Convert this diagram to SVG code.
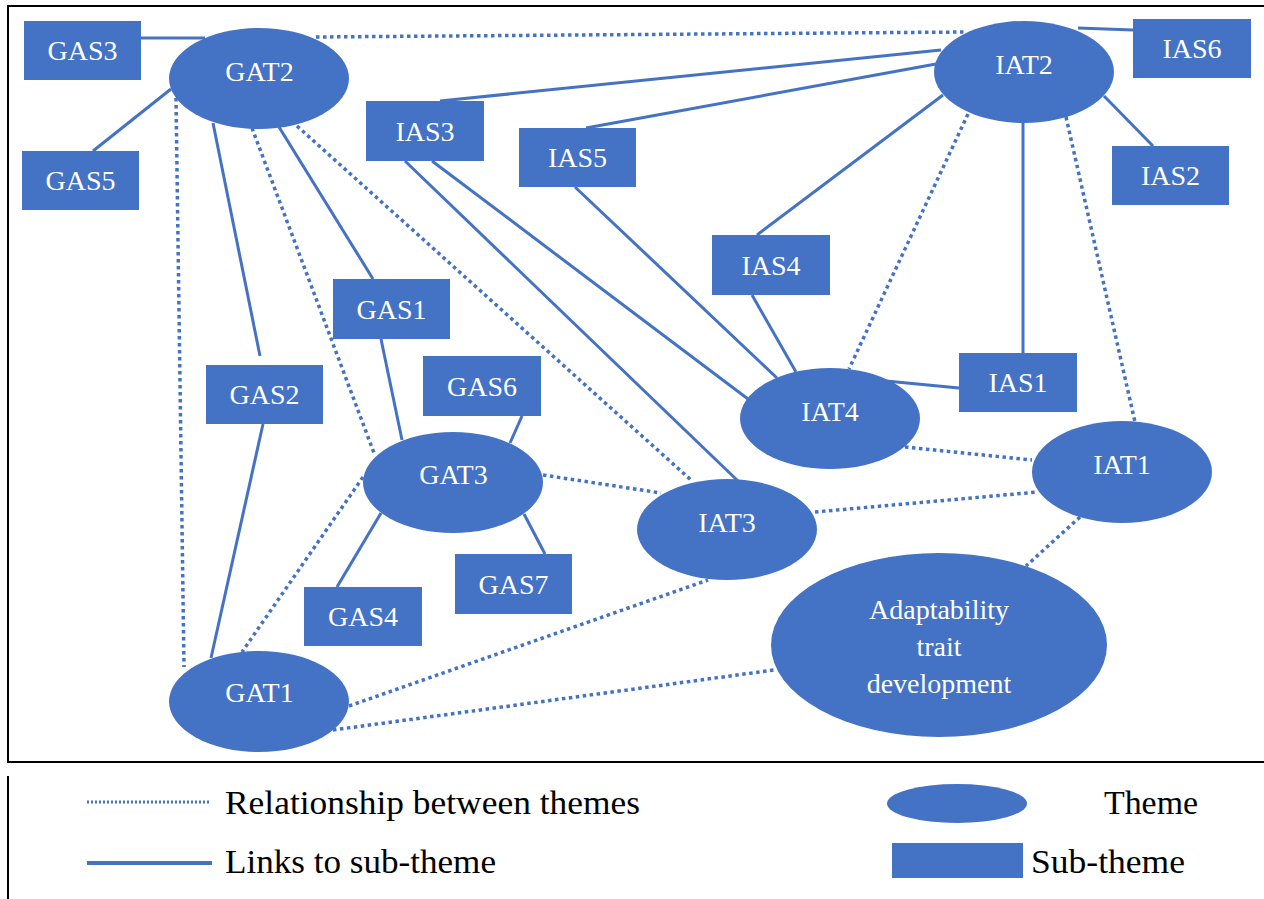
<svg xmlns="http://www.w3.org/2000/svg" width="1264" height="899" viewBox="0 0 1264 899">
<style>
.n{fill:#4472C4}
.t{fill:#fff;font-size:28px;text-anchor:middle;font-family:"Liberation Serif","Times New Roman",serif}
.s{stroke:#4472C4;stroke-width:3;fill:none}
.d{stroke:#4472C4;stroke-width:3.5;fill:none;stroke-dasharray:3.5 3.5}
.lg{fill:#000;font-size:34px;font-family:"Liberation Serif","Times New Roman",serif}
</style>
<rect x="0" y="0" width="1264" height="899" fill="#fff"/>
<rect x="8" y="6" width="1260" height="756" fill="none" stroke="#000" stroke-width="2"/>
<g id="connectors">
<line class="s" x1="141" y1="38" x2="205" y2="38"/>
<line class="s" x1="171" y1="89" x2="93" y2="151"/>
<line class="s" x1="213" y1="123" x2="260" y2="356"/>
<line class="s" x1="263" y1="424" x2="211" y2="658"/>
<line class="s" x1="279" y1="127" x2="373" y2="279"/>
<line class="s" x1="381" y1="339" x2="402" y2="440"/>
<line class="s" x1="522" y1="416" x2="510" y2="443"/>
<line class="s" x1="381" y1="513" x2="337" y2="587"/>
<line class="s" x1="524" y1="514" x2="545" y2="554"/>
<line class="s" x1="440" y1="101" x2="941" y2="50"/>
<line class="s" x1="586" y1="128" x2="936" y2="64"/>
<line class="s" x1="405" y1="161" x2="738" y2="481"/>
<line class="s" x1="432" y1="161" x2="748" y2="399"/>
<line class="s" x1="575" y1="187" x2="777" y2="378"/>
<line class="s" x1="752" y1="295" x2="796" y2="372"/>
<line class="s" x1="943" y1="95" x2="757" y2="235"/>
<line class="s" x1="886" y1="381" x2="959" y2="388"/>
<line class="s" x1="1023" y1="123" x2="1023" y2="353"/>
<line class="s" x1="1078" y1="28" x2="1133" y2="30"/>
<line class="s" x1="1104" y1="96" x2="1153" y2="146"/>
<line class="d" x1="316" y1="37" x2="966" y2="32"/>
<line class="d" x1="176" y1="98" x2="184" y2="667"/>
<line class="d" x1="252" y1="128" x2="374" y2="453"/>
<line class="d" x1="297" y1="126" x2="691" y2="480"/>
<line class="d" x1="363" y1="477" x2="242" y2="652"/>
<line class="d" x1="543" y1="475" x2="661" y2="493"/>
<line class="d" x1="349" y1="706" x2="708" y2="580"/>
<line class="d" x1="333" y1="730" x2="774" y2="670"/>
<line class="d" x1="968" y1="114" x2="849" y2="369"/>
<line class="d" x1="1066" y1="117" x2="1135" y2="422"/>
<line class="d" x1="905" y1="447" x2="1032" y2="460"/>
<line class="d" x1="815" y1="512" x2="1038" y2="492"/>
<line class="d" x1="1080" y1="517" x2="1026" y2="566"/>
</g>
<g id="GAS3"><rect class="n" x="24" y="21" width="117" height="59"/><text class="t" x="82.5" y="60">GAS3</text></g>
<g id="GAS5"><rect class="n" x="22" y="151" width="117" height="59"/><text class="t" x="80.5" y="190">GAS5</text></g>
<g id="IAS3"><rect class="n" x="366" y="101" width="118" height="60"/><text class="t" x="425" y="140.5">IAS3</text></g>
<g id="IAS5"><rect class="n" x="519" y="128" width="117" height="59"/><text class="t" x="577.5" y="167">IAS5</text></g>
<g id="GAS1"><rect class="n" x="333" y="279" width="117" height="60"/><text class="t" x="391.5" y="318.5">GAS1</text></g>
<g id="GAS6"><rect class="n" x="423" y="356" width="118" height="60"/><text class="t" x="482" y="395.5">GAS6</text></g>
<g id="GAS2"><rect class="n" x="206" y="365" width="117" height="59"/><text class="t" x="264.5" y="404">GAS2</text></g>
<g id="GAS7"><rect class="n" x="455" y="554" width="117" height="60"/><text class="t" x="513.5" y="593.5">GAS7</text></g>
<g id="GAS4"><rect class="n" x="304" y="587" width="118" height="59"/><text class="t" x="363" y="626">GAS4</text></g>
<g id="IAS6"><rect class="n" x="1133" y="19" width="118" height="59"/><text class="t" x="1192" y="58">IAS6</text></g>
<g id="IAS2"><rect class="n" x="1112" y="146" width="117" height="59"/><text class="t" x="1170.5" y="185">IAS2</text></g>
<g id="IAS4"><rect class="n" x="712" y="235" width="118" height="60"/><text class="t" x="771" y="274.5">IAS4</text></g>
<g id="IAS1"><rect class="n" x="959" y="353" width="118" height="59"/><text class="t" x="1018" y="392">IAS1</text></g>
<g id="GAT2"><ellipse class="n" cx="259" cy="78.5" rx="90" ry="50.5"/><text class="t" x="259.5" y="81">GAT2</text></g>
<g id="GAT3"><ellipse class="n" cx="453" cy="482.5" rx="90" ry="50.5"/><text class="t" x="453.5" y="483.5">GAT3</text></g>
<g id="GAT1"><ellipse class="n" cx="259" cy="701.5" rx="90" ry="50.5"/><text class="t" x="259.5" y="702">GAT1</text></g>
<g id="IAT2"><ellipse class="n" cx="1024" cy="72" rx="90" ry="51"/><text class="t" x="1024" y="74">IAT2</text></g>
<g id="IAT4"><ellipse class="n" cx="830" cy="418.5" rx="90" ry="50.5"/><text class="t" x="830" y="421">IAT4</text></g>
<g id="IAT3"><ellipse class="n" cx="727" cy="529.5" rx="90" ry="50.5"/><text class="t" x="727" y="532">IAT3</text></g>
<g id="IAT1"><ellipse class="n" cx="1122" cy="472" rx="90" ry="51"/><text class="t" x="1122" y="474">IAT1</text></g>
<g id="Adaptability"><ellipse class="n" cx="939" cy="645" rx="168" ry="92"/><text class="t" x="939" y="619">Adaptability</text><text class="t" x="939" y="656">trait</text><text class="t" x="939" y="693">development</text></g>
<g id="legend">
<line x1="8" y1="776" x2="8" y2="899" stroke="#000" stroke-width="2"/>
<line x1="87" y1="802" x2="211" y2="802" stroke="#4472C4" stroke-width="3" stroke-dasharray="2 2"/>
<line x1="87" y1="863" x2="212" y2="863" stroke="#4472C4" stroke-width="4"/>
<text class="lg" x="225" y="814" textLength="415" lengthAdjust="spacingAndGlyphs">Relationship between themes</text>
<text class="lg" x="225" y="873" textLength="271" lengthAdjust="spacingAndGlyphs">Links to sub-theme</text>
<ellipse class="n" cx="957" cy="803.5" rx="70" ry="19.5"/>
<rect class="n" x="892" y="843" width="131" height="35"/>
<text class="lg" x="1104" y="814" textLength="94" lengthAdjust="spacingAndGlyphs">Theme</text>
<text class="lg" x="1031" y="873" textLength="154" lengthAdjust="spacingAndGlyphs">Sub-theme</text>
</g>
</svg>
